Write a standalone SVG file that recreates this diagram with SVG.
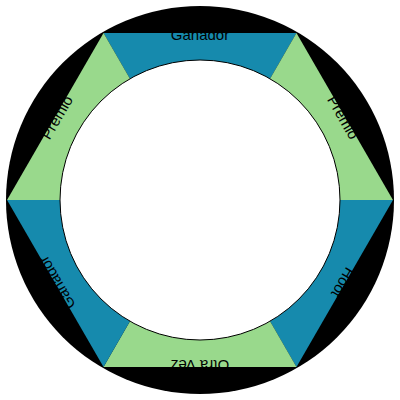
<svg xmlns="http://www.w3.org/2000/svg" width="400" height="400" viewBox="0 0 400 400">
<style>
.seg-a{fill:#168aad}
.seg-b{fill:#99d98c}
.lbl{font-family:"Liberation Sans",Arial,Helvetica,sans-serif;font-size:15px;fill:#000;text-anchor:middle}
</style>
<defs>
<polygon id="tri" points="200,200 103.5,32.9 296.5,32.9"/>
</defs>
<circle cx="200" cy="200" r="194" fill="#000"/>
<g id="seg-1"><use href="#tri" class="seg-a"/><text class="lbl" x="200" y="40">Ganador</text></g>
<g id="seg-2" transform="rotate(60 200 200)"><use href="#tri" class="seg-b"/><text class="lbl" x="200" y="40">Premio</text></g>
<g id="seg-3" transform="rotate(120 200 200)"><use href="#tri" class="seg-a"/><text class="lbl" x="200" y="40">Hoot</text></g>
<g id="seg-4" transform="rotate(180 200 200)"><use href="#tri" class="seg-b"/><text class="lbl" x="200" y="40">Otra Vez</text></g>
<g id="seg-5" transform="rotate(240 200 200)"><use href="#tri" class="seg-a"/><text class="lbl" x="200" y="40">Ganador</text></g>
<g id="seg-6" transform="rotate(300 200 200)"><use href="#tri" class="seg-b"/><text class="lbl" x="200" y="40">Premio</text></g>
<circle id="hub" cx="200" cy="200" r="140" fill="#fff" stroke="#000" stroke-width="1"/>
</svg>
